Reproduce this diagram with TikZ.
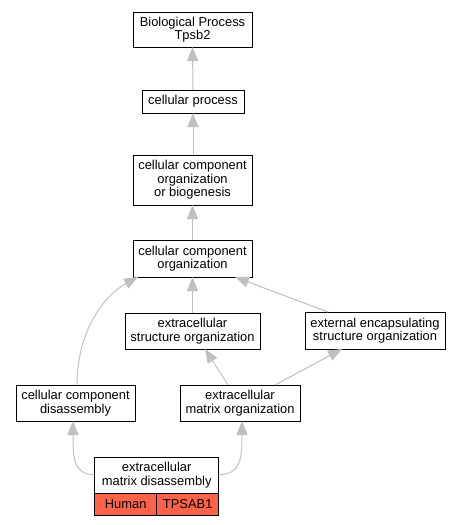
\documentclass[tikz,border=0pt]{standalone}
\usepackage{fontspec}
\setmainfont{Liberation Sans}
\usepackage{xcolor}
\usepackage{tikz}
\usetikzlibrary{positioning,calc,arrows.meta}
\definecolor{edgegray}{HTML}{C0C0C0}
\definecolor{hitfill}{HTML}{FF6347}

\begin{document}
\begin{tikzpicture}[x=1pt, y=-1pt,
  term/.style={draw=black, line width=1pt, fill=white, align=center, inner sep=0pt, outer sep=0pt,
    font=\fontsize{12.9}{13.4}\selectfont},
  hit/.style={term, fill=hitfill, minimum width=62pt, minimum height=22pt},
  isa/.style={draw=edgegray, line width=1pt, -{Triangle[length=14pt,width=11pt]}}]
  \useasboundingbox (0,0) rectangle (460,525);

  % GO terms
  \node[term, minimum width=119pt, minimum height=35pt] (bio) at (192.5,29.5) {Biological Process\\Tpsb2};
  \node[term, minimum width=102pt, minimum height=23pt] (cp) at (193,101.5) {cellular process};
  \node[term, minimum width=119pt, minimum height=50pt] (ccoob) at (192.5,180) {cellular component\\organization\\or biogenesis};
  \node[term, minimum width=119pt, minimum height=37pt] (cco) at (192.5,258.5) {cellular component\\organization};
  \node[term, minimum width=135pt, minimum height=36pt] (eso) at (192.5,331) {extracellular\\structure organization};
  \node[term, minimum width=140pt, minimum height=37pt] (eeso) at (375,330.5) {external encapsulating\\structure organization};
  \node[term, minimum width=119pt, minimum height=36pt] (ccd) at (75.5,403) {cellular component\\disassembly};
  \node[term, minimum width=120pt, minimum height=36pt] (emo) at (240,403) {extracellular\\matrix organization};
  \node[term, minimum width=124pt, minimum height=36pt] (emd) at (156.7,475) {extracellular\\matrix disassembly};

  % annotation row
  \node[hit, below right=0pt of emd.south west, anchor=north west] (human) {Human};
  \node[hit, right=0pt of human] (tpsab) {TPSAB1};

  % is_a edges
  \draw[isa] (cp.north) -- (bio.south);
  \draw[isa] (ccoob.north -| cp) -- (cp.south);
  \draw[isa] (cco.north) -- (ccoob.south);
  \draw[isa] (eso.north) -- (cco.south);
  \draw[isa] ([xshift=23pt]eeso.north west) -- ([xshift=-17pt]cco.south east);
  \draw[isa] ([xshift=1.5pt]ccd.north) .. controls (77,330) and (105,295) .. ([xshift=5pt]cco.south west);
  \draw[isa] ([xshift=-12pt]emo.north) -- ([xshift=12.5pt]eso.south);
  \draw[isa] ([xshift=35pt]emo.north) -- ([xshift=-33pt]eeso.south);
  \draw[isa] (emd.west) .. controls (73,474) and (73,458) .. ([xshift=-2.5pt]ccd.south);
  \draw[isa] (emd.east) .. controls (241,474) and (242,458) .. ([xshift=2pt]emo.south);
\end{tikzpicture}
\end{document}
